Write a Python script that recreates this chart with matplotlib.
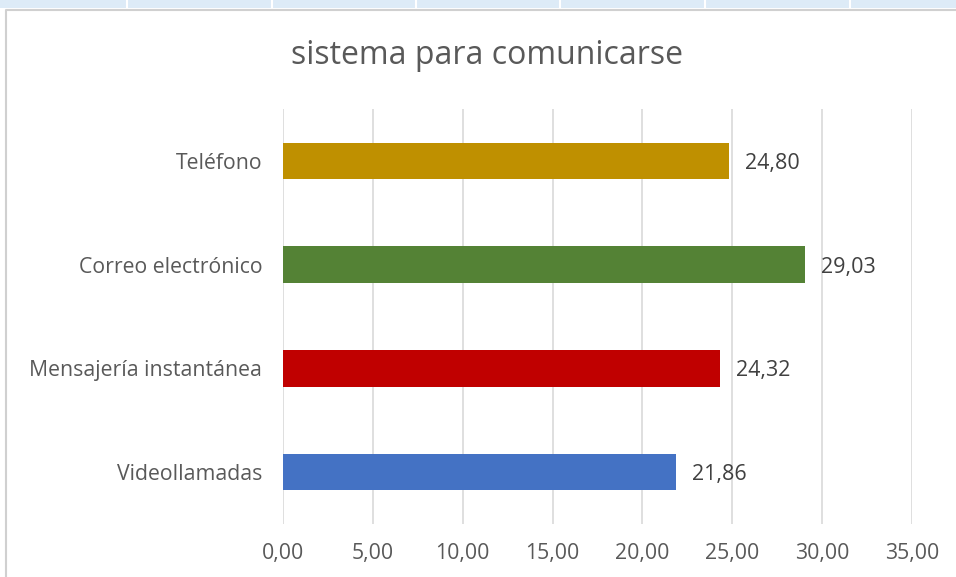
import matplotlib.pyplot as plt
from matplotlib.patches import Rectangle
from matplotlib.lines import Line2D

# data (bottom to top)
categories = ["Videollamadas", "Mensajería instantánea", "Correo electrónico", "Teléfono"]
values = [21.86, 24.32, 29.03, 24.80]
colors = ["#4472C4", "#C00000", "#548235", "#BF9000"]
xticks = [0, 5, 10, 15, 20, 25, 30, 35]

plt.rcParams['font.family'] = ['Open Sans', 'DejaVu Sans']

W, H = 956, 577
fig = plt.figure(figsize=(W / 100, H / 100), dpi=100)

# spreadsheet strip at the top and chart border
fig.add_artist(Rectangle((0, 1 - 8 / H), 1, 8 / H, transform=fig.transFigure,
                         facecolor="#DDEBF7", edgecolor="none"))
for xd in [127, 272, 416, 560, 705, 850]:
    fig.add_artist(Line2D([xd / W, xd / W], [1 - 8 / H, 1], transform=fig.transFigure,
                          color="white", lw=1.5))
fig.add_artist(Line2D([6 / W, 6 / W, 1], [0, 1 - 10 / H, 1 - 10 / H], transform=fig.transFigure,
                      color="#D0D0D0", lw=1.5))

ax = fig.add_axes([283 / W, 1 - 524 / H, (912 - 283) / W, (524 - 109) / H])
y = range(len(categories))
ax.barh(y, values, height=0.35, color=colors, zorder=3)

for i, v in enumerate(values):
    ax.annotate(f"{v:.2f}".replace(".", ","), (v, i), xytext=(11.5, 0),
                textcoords="offset points", va="center_baseline", ha="left",
                fontsize=15.5, color="#404040")

ax.set_xlim(0, 35)
ax.set_ylim(-0.5, len(categories) - 0.5)
ax.set_xticks(xticks)
ax.set_xticklabels([f"{t:.2f}".replace(".", ",") for t in xticks])
ax.set_yticks(list(y))
ax.set_yticklabels(categories)
ax.tick_params(axis="x", length=0, pad=14, labelsize=15.3, labelcolor="#595959")
ax.tick_params(axis="y", length=0, pad=15, labelsize=15.3, labelcolor="#595959")
ax.grid(axis="x", color="#D9D9D9", lw=1.2, zorder=0)
for s in ax.spines.values():
    s.set_visible(False)

fig.text(487 / W, 1 - 56 / H, "sistema para comunicarse", ha="center", va="center",
         fontsize=23, color="#595959")

fig.savefig("out.png", dpi=100)
